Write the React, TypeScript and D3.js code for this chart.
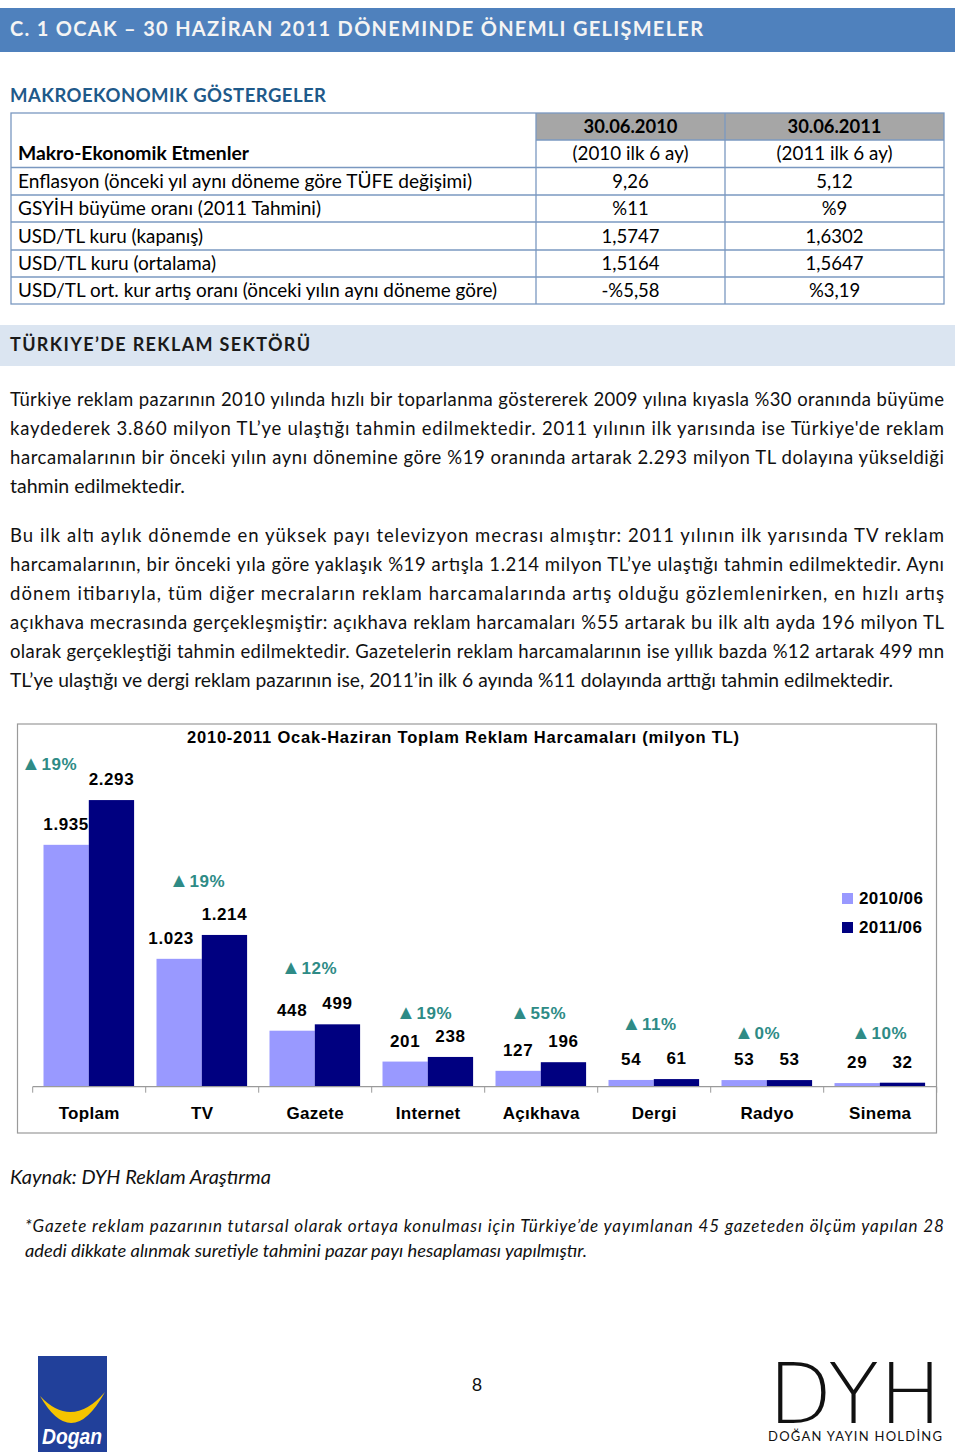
import React from "react";
import * as d3 from "d3";

// ---------- data ----------
const pageTitle = "C. 1 OCAK – 30 HAZİRAN 2011 DÖNEMINDE ÖNEMLI GELIŞMELER";
const macroTitle = "MAKROEKONOMIK GÖSTERGELER";
const tableHead1 = ["30.06.2010", "30.06.2011"];
const tableHead2 = ["(2010 ilk 6 ay)", "(2011 ilk 6 ay)"];
const tableCorner = "Makro-Ekonomik Etmenler";
const rowLabels = [
  "Enflasyon (önceki yıl aynı döneme göre TÜFE değişimi)",
  "GSYİH büyüme oranı (2011 Tahmini)",
  "USD/TL kuru (kapanış)",
  "USD/TL kuru (ortalama)",
  "USD/TL ort. kur artış oranı (önceki yılın aynı döneme göre)",
];
const rowValues2010 = ["9,26", "%11", "1,5747", "1,5164", "-%5,58"];
const rowValues2011 = ["5,12", "%9", "1,6302", "1,5647", "%3,19"];

const sectionTitle = "TÜRKIYE’DE REKLAM SEKTÖRÜ";
const para1 = [
  "Türkiye reklam pazarının 2010 yılında hızlı bir toparlanma göstererek 2009 yılına kıyasla %30 oranında büyüme",
  "kaydederek 3.860 milyon TL’ye ulaştığı tahmin edilmektedir. 2011 yılının ilk yarısında ise Türkiye'de reklam",
  "harcamalarının bir önceki yılın aynı dönemine göre %19 oranında artarak 2.293 milyon TL dolayına yükseldiği",
  "tahmin edilmektedir.",
];
const para2 = [
  "Bu ilk altı aylık dönemde en yüksek payı televizyon mecrası almıştır: 2011 yılının ilk yarısında TV reklam",
  "harcamalarının, bir önceki yıla göre yaklaşık %19 artışla 1.214 milyon TL’ye ulaştığı tahmin edilmektedir. Aynı",
  "dönem itibarıyla, tüm diğer mecraların reklam harcamalarında artış olduğu gözlemlenirken, en hızlı artış",
  "açıkhava mecrasında gerçekleşmiştir: açıkhava reklam harcamaları %55 artarak bu ilk altı ayda 196 milyon TL",
  "olarak gerçekleştiği tahmin edilmektedir. Gazetelerin reklam harcamalarının ise yıllık bazda %12 artarak 499 mn",
  "TL’ye ulaştığı ve dergi reklam pazarının ise, 2011’in ilk 6 ayında %11 dolayında arttığı tahmin edilmektedir.",
];

const chartTitle = "2010-2011 Ocak-Haziran Toplam Reklam Harcamaları (milyon TL)";
const categories = ["Toplam", "TV", "Gazete", "Internet", "Açıkhava", "Dergi", "Radyo", "Sinema"];
const series = ["2010/06", "2011/06"];
const values2010 = [1935, 1023, 448, 201, 127, 54, 53, 29];
const values2011 = [2293, 1214, 499, 238, 196, 61, 53, 32];
const growth = ["19%", "19%", "12%", "19%", "55%", "11%", "0%", "10%"];

const sourceNote = "Kaynak: DYH Reklam Araştırma";
const footnote = [
  "*Gazete reklam pazarının tutarsal olarak ortaya konulması için Türkiye’de yayımlanan 45 gazeteden ölçüm yapılan 28",
  "adedi dikkate alınmak suretiyle tahmini pazar payı hesaplaması yapılmıştır.",
];
const pageNumber = "8";

// ---------- layout (not data) ----------
const growthOffsets = [
  [-40, -36], [-5, -54], [-6, -56], [-4, -44], [-3, -49], [-5, -55], [-10, -47], [-1, -50],
];
// horizontal nudges of the 2010 value labels (to keep them clear of the neighbouring bar)
const lightLabelDx = [0, -8, 0, 0, 0, 0, 0, 0];
const tableLabelWidths = [454, 303, 185, 198, 479];

const BODY_FONT = "Lato, 'Open Sans', sans-serif";
const CHART_FONT = "'Liberation Sans', Arial, sans-serif";
const LIGHT = "#9999ff";
const DARK = "#000080";
const TEAL = "#2e8b86";

const fmt = d3.formatLocale({ thousands: ".", decimal: ",", grouping: [3], currency: ["", ""] }).format(",");

export default function App() {
  const tX0 = 11, tX1 = 536, tX2 = 725, tX3 = 944;
  const rowEdges = [113, 140, 167.5, 195, 222, 250, 277, 304];
  const rowCenters = rowEdges.slice(0, -1).map((e, i) => (e + rowEdges[i + 1]) / 2);
  const tableLine = "#7a98c0";
  const TFS = 18.5;

  const plotLeft = 32.7, plotRight = 936.7, baseY = 1086.7;
  const x0 = d3.scaleBand<string>().domain(categories).range([plotLeft, plotRight]).paddingInner(0).paddingOuter(0);
  const x1 = d3.scaleBand<string>().domain(series).range([10.8, 10.8 + 90.6]).padding(0);
  const y = d3.scaleLinear().domain([0, 2500]).range([baseY, baseY - 312.5]);
  const vals = [values2010, values2011];

  const p1Y = 399, p2Y = 535, lh = 29;
  const BFS = 18.5;

  return (
    <div style={{ position: "absolute", left: 0, top: 0 }}>
      <svg width={960} height={1456} style={{ display: "block", background: "#fff" }}>
        {/* header bar */}
        <rect x={0} y={8} width={955} height={44} fill="#4f81bd" />
        <text x={10} y={36} fontFamily={BODY_FONT} fontWeight={700} fontSize={20} fill="#f4f4f4"
          textLength={693} lengthAdjust="spacing">{pageTitle}</text>

        <text x={10} y={102} fontFamily={BODY_FONT} fontWeight={700} fontSize={18.5} fill="#1f5a8a"
          textLength={316} lengthAdjust="spacing">{macroTitle}</text>

        {/* table */}
        <rect x={tX1} y={rowEdges[0]} width={tX3 - tX1} height={rowEdges[1] - rowEdges[0]} fill="#a6a6a6" />
        <rect x={tX0} y={rowEdges[0]} width={tX3 - tX0} height={rowEdges[7] - rowEdges[0]} fill="none" stroke={tableLine} strokeWidth={1.3} />
        <line x1={tX1} x2={tX3} y1={rowEdges[1]} y2={rowEdges[1]} stroke={tableLine} strokeWidth={1.3} />
        {rowEdges.slice(2, 7).map((e, i) => (
          <line key={i} x1={tX0} x2={tX3} y1={e} y2={e} stroke={tableLine} strokeWidth={1.3} />
        ))}
        <line x1={tX1} x2={tX1} y1={rowEdges[0]} y2={rowEdges[7]} stroke={tableLine} strokeWidth={1.3} />
        <line x1={tX2} x2={tX2} y1={rowEdges[0]} y2={rowEdges[7]} stroke={tableLine} strokeWidth={1.3} />
        {tableHead1.map((t, i) => (
          <text key={t} x={i === 0 ? (tX1 + tX2) / 2 : (tX2 + tX3) / 2} y={rowCenters[0] + 6.5} textAnchor="middle"
            fontFamily={BODY_FONT} fontWeight={700} fontSize={TFS} fill="#000" textLength={94} lengthAdjust="spacingAndGlyphs">{t}</text>
        ))}
        {tableHead2.map((t, i) => (
          <text key={t} x={i === 0 ? (tX1 + tX2) / 2 : (tX2 + tX3) / 2} y={rowCenters[1] + 6.5} textAnchor="middle"
            fontFamily={BODY_FONT} fontSize={TFS} fill="#000" textLength={116} lengthAdjust="spacingAndGlyphs">{t}</text>
        ))}
        <text x={18} y={rowCenters[1] + 6.5} fontFamily={BODY_FONT} fontWeight={700} fontSize={TFS} fill="#000"
          textLength={231} lengthAdjust="spacingAndGlyphs">{tableCorner}</text>
        {rowLabels.map((t, i) => (
          <g key={t}>
            <text x={18} y={rowCenters[i + 2] + 6.5} fontFamily={BODY_FONT} fontSize={TFS} fill="#000"
              textLength={tableLabelWidths[i]} lengthAdjust="spacingAndGlyphs">{t}</text>
            <text x={(tX1 + tX2) / 2} y={rowCenters[i + 2] + 6.5} textAnchor="middle" fontFamily={BODY_FONT} fontSize={TFS} fill="#000">{rowValues2010[i]}</text>
            <text x={(tX2 + tX3) / 2} y={rowCenters[i + 2] + 6.5} textAnchor="middle" fontFamily={BODY_FONT} fontSize={TFS} fill="#000">{rowValues2011[i]}</text>
          </g>
        ))}

        {/* section bar */}
        <rect x={0} y={325} width={955} height={41} fill="#dbe5f1" />
        <text x={10} y={351} fontFamily={BODY_FONT} fontWeight={700} fontSize={18} fill="#1a1a1a"
          textLength={300} lengthAdjust="spacing">{sectionTitle}</text>

        {/* paragraphs */}
        {para1.map((t, i) => (
          <text key={i} x={10} y={p1Y + i * lh + 6.5} fontFamily={BODY_FONT} fontSize={BFS} fill="#111"
            textLength={i < para1.length - 1 ? 934 : 175} lengthAdjust={i < para1.length - 1 ? "spacing" : "spacingAndGlyphs"}>{t}</text>
        ))}
        {para2.map((t, i) => (
          <text key={i} x={10} y={p2Y + i * lh + 6.5} fontFamily={BODY_FONT} fontSize={BFS} fill="#111"
            textLength={i < para2.length - 1 ? 934 : 883} lengthAdjust={i < para2.length - 1 ? "spacing" : "spacingAndGlyphs"}>{t}</text>
        ))}

        {/* chart box */}
        <rect x={17.5} y={724} width={919} height={409} fill="#fff" stroke="#9a9a9a" strokeWidth={1.2} />
        <text x={463} y={743} textAnchor="middle" fontFamily={CHART_FONT} fontWeight={700} fontSize={16.5} fill="#000"
          textLength={552} lengthAdjust="spacing">{chartTitle}</text>

        {categories.map((c, ci) => (
          <g key={c} transform={`translate(${x0(c)},0)`}>
            {series.map((s, si) => {
              const v = vals[si][ci];
              const bx = x1(s)!;
              const bw = x1.bandwidth();
              return (
                <g key={s}>
                  <rect x={bx} y={y(v)} width={bw} height={baseY - y(v)} fill={si === 0 ? LIGHT : DARK} />
                  <text x={bx + bw / 2 + (si === 0 ? lightLabelDx[ci] : 0)} y={y(v) - 21 + 6} textAnchor="middle"
                    fontFamily={CHART_FONT} fontWeight={700} fontSize={17} letterSpacing={0.6} fill="#000">{fmt(v)}</text>
                </g>
              );
            })}
            <text x={x0.bandwidth() / 2 + growthOffsets[ci][0]}
              y={y(Math.max(values2010[ci], values2011[ci])) + growthOffsets[ci][1] + 6}
              textAnchor="middle" fontFamily={CHART_FONT} fontWeight={700} fontSize={17} letterSpacing={0.6} fill={TEAL}>
              <tspan fontSize={20}>▲</tspan>{growth[ci]}
            </text>
            <text x={x0.bandwidth() / 2} y={1119} textAnchor="middle" fontFamily={CHART_FONT} fontWeight={700}
              fontSize={17} letterSpacing={0.3} fill="#000">{c}</text>
          </g>
        ))}
        {/* axis */}
        <line x1={plotLeft} x2={plotRight} y1={baseY} y2={baseY} stroke="#9a9a9a" strokeWidth={1.2} />
        {categories.map((c) => (
          <line key={c} x1={x0(c)!} x2={x0(c)!} y1={baseY} y2={baseY + 6} stroke="#9a9a9a" strokeWidth={1} />
        ))}
        <line x1={plotRight} x2={plotRight} y1={baseY} y2={baseY + 6} stroke="#9a9a9a" strokeWidth={1} />

        {/* legend */}
        {series.map((s, i) => (
          <g key={s} transform={`translate(842,${893 + i * 29})`}>
            <rect x={0} y={0} width={11} height={11} fill={i === 0 ? LIGHT : DARK} />
            <text x={17} y={11} fontFamily={CHART_FONT} fontWeight={700} fontSize={17} letterSpacing={0.4} fill="#000">{s}</text>
          </g>
        ))}

        {/* source & footnote */}
        <text x={10} y={1184} fontFamily={BODY_FONT} fontStyle="italic" fontSize={19} fill="#111"
          textLength={261} lengthAdjust="spacingAndGlyphs">{sourceNote}</text>
        {footnote.map((t, i) => (
          <text key={i} x={25} y={1232 + i * 25} fontFamily={BODY_FONT} fontStyle="italic" fontSize={17} fill="#111"
            textLength={i === 0 ? 919 : 562} lengthAdjust={i === 0 ? "spacing" : "spacingAndGlyphs"}>{t}</text>
        ))}

        {/* page number */}
        <text x={477} y={1391} textAnchor="middle" fontFamily={BODY_FONT} fontSize={18} fill="#111">{pageNumber}</text>

        {/* Dogan logo */}
        <rect x={38} y={1356} width={69} height={96} fill="#21409a" />
        <path d="M40,1396 Q72,1452 105,1392 Q72,1430 40,1396 Z" fill="#f5c400" />
        <text x={72} y={1444} textAnchor="middle" fontFamily={CHART_FONT} fontStyle="italic" fontWeight={700}
          fontSize={22} fill="#fff" textLength={60} lengthAdjust="spacingAndGlyphs">Dogan</text>

        {/* DYH logo */}
        <text x={768} y={1423} fontFamily="'DejaVu Sans', sans-serif" fontWeight={200} fontSize={84} fill="#111"
          textLength={174} lengthAdjust="spacingAndGlyphs">DYH</text>
        <text x={768} y={1441} fontFamily={BODY_FONT} fontSize={13} fill="#111"
          textLength={174} lengthAdjust="spacing">DOĞAN YAYIN HOLDİNG</text>
      </svg>
    </div>
  );
}
